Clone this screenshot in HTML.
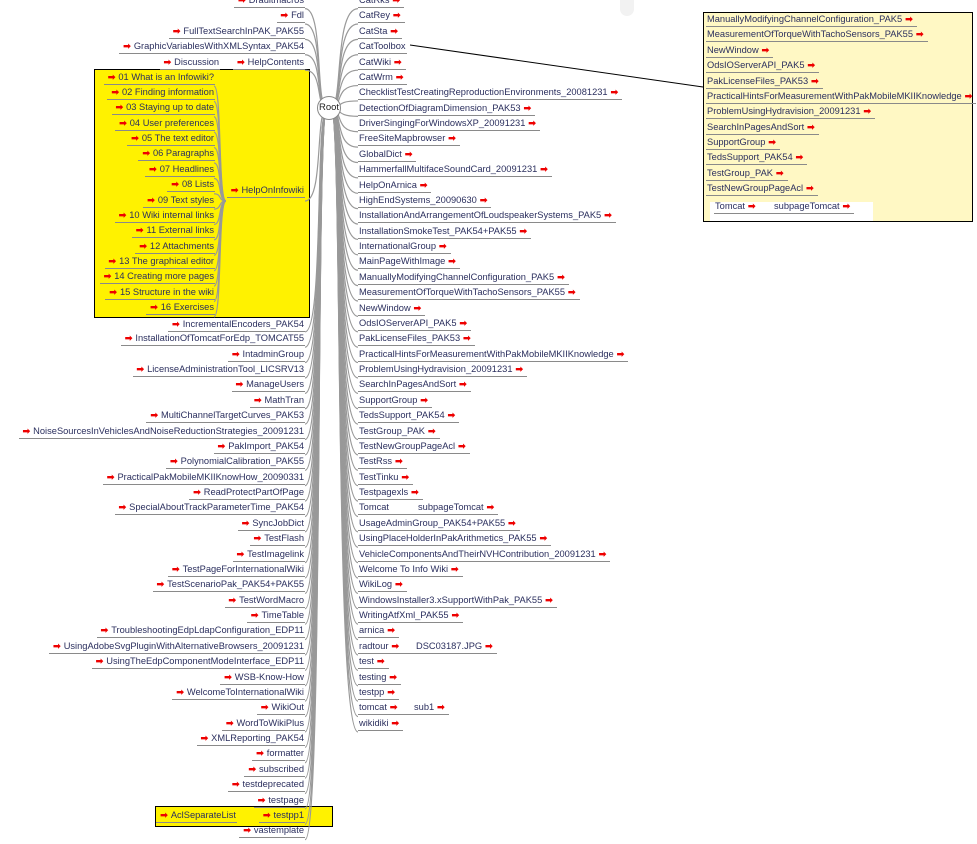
<!DOCTYPE html>
<html><head><meta charset="utf-8"><style>
*{margin:0;padding:0;box-sizing:border-box}
body{width:977px;height:844px;background:#fff;position:relative;overflow:hidden;font-family:"Liberation Sans",Arial,sans-serif;font-size:9.3px;color:#2b2f5e}
.col{position:absolute}
.row{height:15.39px;white-space:nowrap;position:relative}
.n{display:inline-block;vertical-align:top;border-bottom:1px solid #8a8a8a;line-height:13px;height:14px;padding:0 1px}
.a{color:#e00;font-size:9px;font-weight:bold;margin:0 3px}
.L{text-align:right}
#yb{position:absolute;left:94px;top:69px;width:216px;height:249px;background:#fff200;border:1px solid #000}
#rb{position:absolute;left:703px;top:12px;width:270px;height:210px;background:#fff8c4;border:1px solid #000}
svg{position:absolute;left:0;top:0}
</style></head><body>
<div style="position:absolute;left:620px;top:0;width:14px;height:16px;background:#f2f2f2;border-radius:0 0 7px 7px"></div>
<div id="yb"></div>
<div id="rb"></div>
<div style="position:absolute;left:155px;top:806px;width:178px;height:21px;background:#fff200;border:1px solid #000"></div>
<div style="position:absolute;left:710px;top:202px;width:163px;height:19px;background:#fff"></div>
<svg width="977" height="844" id="sv"></svg>

<!-- right column -->
<div class="col" style="left:358px;top:-6px">
<div class="row"><span class="n">CatRks<span class="a">➡</span></span></div>
<div class="row"><span class="n">CatRey<span class="a">➡</span></span></div>
<div class="row"><span class="n">CatSta<span class="a">➡</span></span></div>
<div class="row"><span class="n">CatToolbox</span></div>
<div class="row"><span class="n">CatWiki<span class="a">➡</span></span></div>
<div class="row"><span class="n">CatWrm<span class="a">➡</span></span></div>
<div class="row"><span class="n">ChecklistTestCreatingReproductionEnvironments_20081231<span class="a">➡</span></span></div>
<div class="row"><span class="n">DetectionOfDiagramDimension_PAK53<span class="a">➡</span></span></div>
<div class="row"><span class="n">DriverSingingForWindowsXP_20091231<span class="a">➡</span></span></div>
<div class="row"><span class="n">FreeSiteMapbrowser<span class="a">➡</span></span></div>
<div class="row"><span class="n">GlobalDict<span class="a">➡</span></span></div>
<div class="row"><span class="n">HammerfallMultifaceSoundCard_20091231<span class="a">➡</span></span></div>
<div class="row"><span class="n">HelpOnArnica<span class="a">➡</span></span></div>
<div class="row"><span class="n">HighEndSystems_20090630<span class="a">➡</span></span></div>
<div class="row"><span class="n">InstallationAndArrangementOfLoudspeakerSystems_PAK5<span class="a">➡</span></span></div>
<div class="row"><span class="n">InstallationSmokeTest_PAK54+PAK55<span class="a">➡</span></span></div>
<div class="row"><span class="n">InternationalGroup<span class="a">➡</span></span></div>
<div class="row"><span class="n">MainPageWithImage<span class="a">➡</span></span></div>
<div class="row"><span class="n">ManuallyModifyingChannelConfiguration_PAK5<span class="a">➡</span></span></div>
<div class="row"><span class="n">MeasurementOfTorqueWithTachoSensors_PAK55<span class="a">➡</span></span></div>
<div class="row"><span class="n">NewWindow<span class="a">➡</span></span></div>
<div class="row"><span class="n">OdsIOServerAPI_PAK5<span class="a">➡</span></span></div>
<div class="row"><span class="n">PakLicenseFiles_PAK53<span class="a">➡</span></span></div>
<div class="row"><span class="n">PracticalHintsForMeasurementWithPakMobileMKIIKnowledge<span class="a">➡</span></span></div>
<div class="row"><span class="n">ProblemUsingHydravision_20091231<span class="a">➡</span></span></div>
<div class="row"><span class="n">SearchInPagesAndSort<span class="a">➡</span></span></div>
<div class="row"><span class="n">SupportGroup<span class="a">➡</span></span></div>
<div class="row"><span class="n">TedsSupport_PAK54<span class="a">➡</span></span></div>
<div class="row"><span class="n">TestGroup_PAK<span class="a">➡</span></span></div>
<div class="row"><span class="n">TestNewGroupPageAcl<span class="a">➡</span></span></div>
<div class="row"><span class="n">TestRss<span class="a">➡</span></span></div>
<div class="row"><span class="n">TestTinku<span class="a">➡</span></span></div>
<div class="row"><span class="n">Testpagexls<span class="a">➡</span></span></div>
<div class="row"><span class="n" style="width:59px">Tomcat</span><span class="n">subpageTomcat<span class="a">➡</span></span></div>
<div class="row"><span class="n">UsageAdminGroup_PAK54+PAK55<span class="a">➡</span></span></div>
<div class="row"><span class="n">UsingPlaceHolderInPakArithmetics_PAK55<span class="a">➡</span></span></div>
<div class="row"><span class="n">VehicleComponentsAndTheirNVHContribution_20091231<span class="a">➡</span></span></div>
<div class="row"><span class="n">Welcome To Info Wiki<span class="a">➡</span></span></div>
<div class="row"><span class="n">WikiLog<span class="a">➡</span></span></div>
<div class="row"><span class="n">WindowsInstaller3.xSupportWithPak_PAK55<span class="a">➡</span></span></div>
<div class="row"><span class="n">WritingAtfXml_PAK55<span class="a">➡</span></span></div>
<div class="row"><span class="n">arnica<span class="a">➡</span></span></div>
<div class="row"><span class="n" style="width:57px">radtour<span class="a">➡</span></span><span class="n">DSC03187.JPG<span class="a">➡</span></span></div>
<div class="row"><span class="n">test<span class="a">➡</span></span></div>
<div class="row"><span class="n">testing<span class="a">➡</span></span></div>
<div class="row"><span class="n">testpp<span class="a">➡</span></span></div>
<div class="row"><span class="n" style="width:55px">tomcat<span class="a">➡</span></span><span class="n">sub1<span class="a">➡</span></span></div>
<div class="row"><span class="n">wikidiki<span class="a">➡</span></span></div>
</div>

<!-- right box -->
<div class="col" style="left:706px;top:13px">
<div class="row"><span class="n">ManuallyModifyingChannelConfiguration_PAK5<span class="a">➡</span></span></div>
<div class="row"><span class="n">MeasurementOfTorqueWithTachoSensors_PAK55<span class="a">➡</span></span></div>
<div class="row"><span class="n">NewWindow<span class="a">➡</span></span></div>
<div class="row"><span class="n">OdsIOServerAPI_PAK5<span class="a">➡</span></span></div>
<div class="row"><span class="n">PakLicenseFiles_PAK53<span class="a">➡</span></span></div>
<div class="row"><span class="n">PracticalHintsForMeasurementWithPakMobileMKIIKnowledge<span class="a">➡</span></span></div>
<div class="row"><span class="n">ProblemUsingHydravision_20091231<span class="a">➡</span></span></div>
<div class="row"><span class="n">SearchInPagesAndSort<span class="a">➡</span></span></div>
<div class="row"><span class="n">SupportGroup<span class="a">➡</span></span></div>
<div class="row"><span class="n">TedsSupport_PAK54<span class="a">➡</span></span></div>
<div class="row"><span class="n">TestGroup_PAK<span class="a">➡</span></span></div>
<div class="row"><span class="n">TestNewGroupPageAcl<span class="a">➡</span></span></div>
<div class="row" style="padding-left:8px;top:2px"><span class="n" style="width:59px">Tomcat<span class="a">➡</span></span><span class="n">subpageTomcat<span class="a">➡</span></span></div>
</div>

<!-- left column -->
<div class="col L" style="right:672px;top:-6px;width:340px">
<div class="row"><span class="n"><span class="a">➡</span>Draultmacros</span></div>
<div class="row"><span class="n"><span class="a">➡</span>Fdl</span></div>
<div class="row"><span class="n"><span class="a">➡</span>FullTextSearchInPAK_PAK55</span></div>
<div class="row"><span class="n"><span class="a">➡</span>GraphicVariablesWithXMLSyntax_PAK54</span></div>
<div class="row"><span class="n" style="margin-right:13px"><span class="a">➡</span>Discussion</span><span class="n"><span class="a">➡</span>HelpContents</span></div>
<div class="row"></div><div class="row"></div><div class="row"></div><div class="row"></div>
<div class="row"></div><div class="row"></div><div class="row"></div>
<div class="row" style="top:5px"><span class="n"><span class="a">➡</span>HelpOnInfowiki</span></div>
<div class="row"></div><div class="row"></div><div class="row"></div><div class="row"></div>
<div class="row"></div><div class="row"></div><div class="row"></div><div class="row"></div>
<div class="row" style="top:1px"><span class="n"><span class="a">➡</span>IncrementalEncoders_PAK54</span></div>
<div class="row"><span class="n"><span class="a">➡</span>InstallationOfTomcatForEdp_TOMCAT55</span></div>
<div class="row"><span class="n"><span class="a">➡</span>IntadminGroup</span></div>
<div class="row"><span class="n"><span class="a">➡</span>LicenseAdministrationTool_LICSRV13</span></div>
<div class="row"><span class="n"><span class="a">➡</span>ManageUsers</span></div>
<div class="row"><span class="n"><span class="a">➡</span>MathTran</span></div>
<div class="row"><span class="n"><span class="a">➡</span>MultiChannelTargetCurves_PAK53</span></div>
<div class="row"><span class="n"><span class="a">➡</span>NoiseSourcesInVehiclesAndNoiseReductionStrategies_20091231</span></div>
<div class="row"><span class="n"><span class="a">➡</span>PakImport_PAK54</span></div>
<div class="row"><span class="n"><span class="a">➡</span>PolynomialCalibration_PAK55</span></div>
<div class="row"><span class="n"><span class="a">➡</span>PracticalPakMobileMKIIKnowHow_20090331</span></div>
<div class="row"><span class="n"><span class="a">➡</span>ReadProtectPartOfPage</span></div>
<div class="row"><span class="n"><span class="a">➡</span>SpecialAboutTrackParameterTime_PAK54</span></div>
<div class="row"><span class="n"><span class="a">➡</span>SyncJobDict</span></div>
<div class="row"><span class="n"><span class="a">➡</span>TestFlash</span></div>
<div class="row"><span class="n"><span class="a">➡</span>TestImagelink</span></div>
<div class="row"><span class="n"><span class="a">➡</span>TestPageForInternationalWiki</span></div>
<div class="row"><span class="n"><span class="a">➡</span>TestScenarioPak_PAK54+PAK55</span></div>
<div class="row"><span class="n"><span class="a">➡</span>TestWordMacro</span></div>
<div class="row"><span class="n"><span class="a">➡</span>TimeTable</span></div>
<div class="row"><span class="n"><span class="a">➡</span>TroubleshootingEdpLdapConfiguration_EDP11</span></div>
<div class="row"><span class="n"><span class="a">➡</span>UsingAdobeSvgPluginWithAlternativeBrowsers_20091231</span></div>
<div class="row"><span class="n"><span class="a">➡</span>UsingTheEdpComponentModeInterface_EDP11</span></div>
<div class="row"><span class="n"><span class="a">➡</span>WSB-Know-How</span></div>
<div class="row"><span class="n"><span class="a">➡</span>WelcomeToInternationalWiki</span></div>
<div class="row"><span class="n"><span class="a">➡</span>WikiOut</span></div>
<div class="row"><span class="n"><span class="a">➡</span>WordToWikiPlus</span></div>
<div class="row"><span class="n"><span class="a">➡</span>XMLReporting_PAK54</span></div>
<div class="row"><span class="n"><span class="a">➡</span>formatter</span></div>
<div class="row"><span class="n"><span class="a">➡</span>subscribed</span></div>
<div class="row"><span class="n"><span class="a">➡</span>testdeprecated</span></div>
<div class="row"><span class="n"><span class="a">➡</span>testpage</span></div>
<div class="row"><span class="n" style="margin-right:22px"><span class="a">➡</span>AclSeparateList</span><span class="n"><span class="a">➡</span>testpp1</span></div>
<div class="row"><span class="n"><span class="a">➡</span>vastemplate</span></div>
</div>

<!-- yellow children -->
<div class="col L" style="right:762px;top:70.6px;width:200px">
<div class="row"><span class="n"><span class="a">➡</span>01 What is an Infowiki?</span></div>
<div class="row"><span class="n"><span class="a">➡</span>02 Finding information</span></div>
<div class="row"><span class="n"><span class="a">➡</span>03 Staying up to date</span></div>
<div class="row"><span class="n"><span class="a">➡</span>04 User preferences</span></div>
<div class="row"><span class="n"><span class="a">➡</span>05 The text editor</span></div>
<div class="row"><span class="n"><span class="a">➡</span>06 Paragraphs</span></div>
<div class="row"><span class="n"><span class="a">➡</span>07 Headlines</span></div>
<div class="row"><span class="n"><span class="a">➡</span>08 Lists</span></div>
<div class="row"><span class="n"><span class="a">➡</span>09 Text styles</span></div>
<div class="row"><span class="n"><span class="a">➡</span>10 Wiki internal links</span></div>
<div class="row"><span class="n"><span class="a">➡</span>11 External links</span></div>
<div class="row"><span class="n"><span class="a">➡</span>12 Attachments</span></div>
<div class="row"><span class="n"><span class="a">➡</span>13 The graphical editor</span></div>
<div class="row"><span class="n"><span class="a">➡</span>14 Creating more pages</span></div>
<div class="row"><span class="n"><span class="a">➡</span>15 Structure in the wiki</span></div>
<div class="row"><span class="n"><span class="a">➡</span>16 Exercises</span></div>
</div>

<div style="position:absolute;left:317px;top:96px;width:24px;height:24px;border-radius:50%;background:#fff;border:1px solid #888;font-size:9.5px;line-height:22px;text-align:center;color:#222">Root</div>

<script>
var s='',P=function(d,c,w){s+='<path d="'+d+'" fill="none" stroke="'+(c||'#999')+'" stroke-width="'+(w||1.2)+'"/>';};
var i,y;
for(i=-1;i<47;i++){y=15+15.39*i+9;P('M331,108 C343,108 334,'+y+' 358,'+y);}
for(i=-1;i<54;i++){if(i>=4&&i<=19)continue;y=15+15.39*i+9;P('M327,108 C315,108 324,'+y+' 305,'+y);}
y=201;P('M327,108 C315,108 324,'+y+' 305,'+y);
for(i=0;i<16;i++){y=79+15.39*i+7;P('M226,201 C218,201 222,'+y+' 214,'+y);}
P('M410,45 L703,87','#000',1);
document.getElementById('sv').innerHTML=s;
</script>
</body></html>
